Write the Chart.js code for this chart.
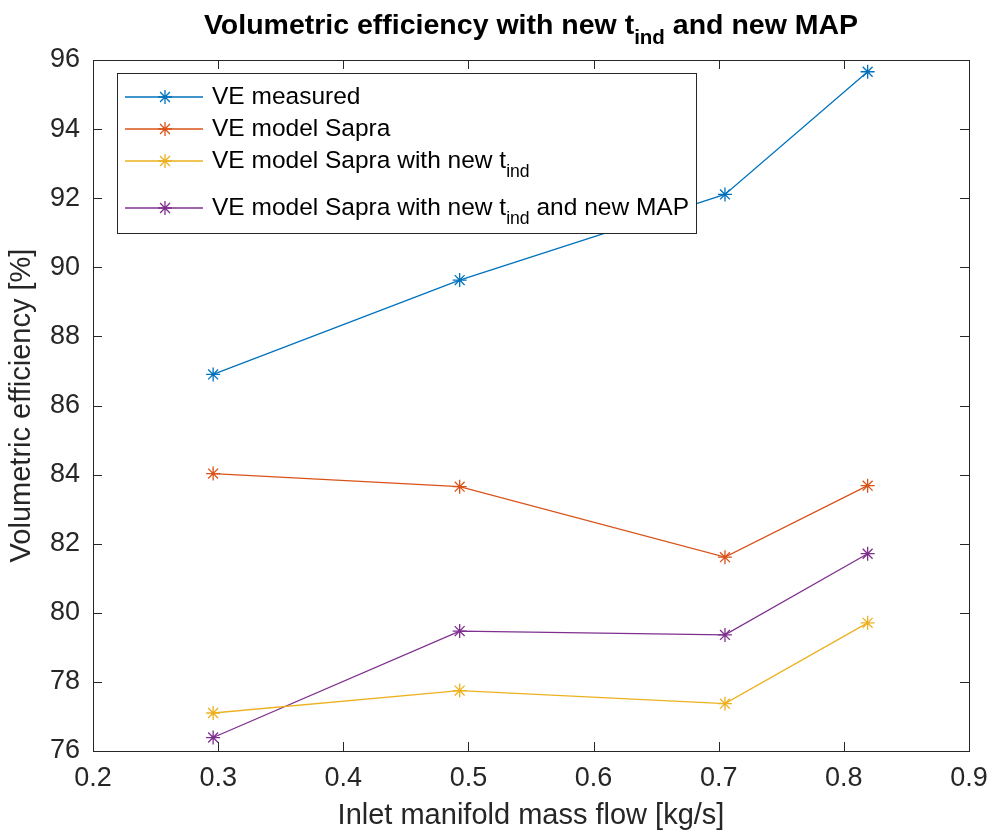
<!DOCTYPE html>
<html>
<head>
<meta charset="utf-8">
<script src="https://cdn.jsdelivr.net/npm/chart.js"></script>
<style>
html, body { margin: 0; padding: 0; background: #fff; }
</style>
</head>
<body>
<canvas id="myChart" width="992" height="839"></canvas>
<script>
// Mass flow at each operating point [kg/s]
var massFlow = [0.296, 0.493, 0.705, 0.819];

// Volumetric efficiency series [%]
var veMeasured = [86.9, 89.63, 92.11, 95.66];
var veSapra = [84.03, 83.65, 81.61, 83.68];
var veSapraTind = [77.1, 77.75, 77.37, 79.71];
var veSapraTindMap = [76.39, 79.47, 79.36, 81.71];

// Axis ticks
var xTicks = [0.2, 0.3, 0.4, 0.5, 0.6, 0.7, 0.8, 0.9];
var yTicks = [76, 78, 80, 82, 84, 86, 88, 90, 92, 94, 96];

// Legend entries: plain text followed by subscripted parts
var legendLabels = [
    [{ t: 'VE measured' }],
    [{ t: 'VE model Sapra' }],
    [{ t: 'VE model Sapra with new t' }, { t: 'ind', sub: true }],
    [{ t: 'VE model Sapra with new t' }, { t: 'ind', sub: true }, { t: ' and new MAP' }]
];
var seriesColors = ['#0072BD', '#D95319', '#EDB120', '#7E2F8E'];
var seriesValues = [veMeasured, veSapra, veSapraTind, veSapraTindMap];

var FONT = '"Liberation Sans", Arial, Helvetica, sans-serif';
var INK = '#262626';

function toPoints(ys) {
    return ys.map((y, i) => ({ x: massFlow[i], y: y }));
}

// Draws text with optional subscript segments, returns total width
function drawRich(ctx, parts, x, y, size, bold, align) {
    var w = 0;
    var weight = bold ? 'bold ' : '';
    parts.forEach(p => {
        ctx.font = weight + (p.sub ? size * 0.72 : size) + 'px ' + FONT;
        p.w = ctx.measureText(p.t).width;
        w += p.w;
    });
    var cx = align === 'center' ? x - w / 2 : x;
    ctx.textAlign = 'left';
    ctx.textBaseline = 'middle';
    parts.forEach(p => {
        ctx.font = weight + (p.sub ? size * 0.72 : size) + 'px ' + FONT;
        ctx.fillText(p.t, cx, p.sub ? y + size * 0.45 : y);
        cx += p.w;
    });
    return w;
}

function drawStar(ctx, x, y, r, color) {
    ctx.save();
    ctx.strokeStyle = color;
    ctx.lineWidth = 1.3;
    ctx.beginPath();
    for (var a = 0; a < 4; a++) {
        var ang = a * Math.PI / 4;
        ctx.moveTo(x - r * Math.cos(ang), y - r * Math.sin(ang));
        ctx.lineTo(x + r * Math.cos(ang), y + r * Math.sin(ang));
    }
    ctx.stroke();
    ctx.restore();
}

// Box, inward ticks, titles and legend in MATLAB style
var matlabFrame = {
    id: 'matlabFrame',
    afterDatasetsDraw(chart) {
        var ctx = chart.ctx;
        var a = chart.chartArea;
        var xs = chart.scales.x, ys = chart.scales.y;
        ctx.save();
        ctx.strokeStyle = INK;
        ctx.lineWidth = 1;
        ctx.strokeRect(a.left + 0.5, a.top + 0.5, a.right - a.left, a.bottom - a.top);
        ctx.beginPath();
        xTicks.forEach(v => {
            var px = Math.round(xs.getPixelForValue(v)) + 0.5;
            ctx.moveTo(px, a.bottom); ctx.lineTo(px, a.bottom - 9);
            ctx.moveTo(px, a.top); ctx.lineTo(px, a.top + 9);
        });
        yTicks.forEach(v => {
            var py = Math.round(ys.getPixelForValue(v)) + 0.5;
            ctx.moveTo(a.left, py); ctx.lineTo(a.left + 9, py);
            ctx.moveTo(a.right, py); ctx.lineTo(a.right - 9, py);
        });
        ctx.stroke();

        // Titles
        ctx.fillStyle = '#000';
        drawRich(ctx, [{ t: 'Volumetric efficiency with new t' }, { t: 'ind', sub: true }, { t: ' and new MAP' }],
            (a.left + a.right) / 2, 26, 28.5, true, 'center');
        ctx.fillStyle = INK;
        drawRich(ctx, [{ t: 'Inlet manifold mass flow [kg/s]' }], (a.left + a.right) / 2, 816, 29, false, 'center');
        ctx.save();
        ctx.translate(22, (a.top + a.bottom) / 2);
        ctx.rotate(-Math.PI / 2);
        drawRich(ctx, [{ t: 'Volumetric efficiency [%]' }], 0, 0, 29, false, 'center');
        ctx.restore();

        // Legend
        var lx = 117, ly = 73, lw = 579, lh = 160;
        ctx.fillStyle = '#fff';
        ctx.fillRect(lx, ly, lw, lh);
        ctx.strokeStyle = INK;
        ctx.lineWidth = 1;
        ctx.strokeRect(lx + 0.5, ly + 0.5, lw, lh);
        var rowY = [97, 129, 161, 208];
        legendLabels.forEach((parts, i) => {
            var y = rowY[i];
            ctx.strokeStyle = seriesColors[i];
            ctx.lineWidth = 1.3;
            ctx.beginPath();
            ctx.moveTo(125, y); ctx.lineTo(203, y);
            ctx.stroke();
            drawStar(ctx, 165, y, 7, seriesColors[i]);
            ctx.fillStyle = '#000';
            drawRich(ctx, parts, 212, y, 24.5, false, 'left');
        });
        ctx.restore();
    }
};

var ctx = document.getElementById('myChart').getContext('2d');
var myChart = new Chart(ctx, {
    type: 'line',
    data: {
        datasets: seriesValues.map((vals, i) => ({
            data: toPoints(vals),
            borderColor: seriesColors[i],
            backgroundColor: seriesColors[i],
            borderWidth: 1.3,
            pointStyle: 'star',
            pointRadius: 7,
            pointBorderWidth: 1.3,
            tension: 0
        }))
    },
    options: {
        responsive: false,
        animation: false,
        layout: { padding: { top: 60, right: 23, left: 0, bottom: 0 } },
        plugins: {
            legend: { display: false },
            title: { display: false },
            tooltip: { enabled: false }
        },
        scales: {
            x: {
                type: 'linear',
                min: 0.2,
                max: 0.9,
                afterFit: s => { s.height = 88; s.paddingLeft = 0; s.paddingRight = 0; },
                afterBuildTicks: s => { s.ticks = xTicks.map(v => ({ value: v })); },
                grid: { display: false, drawTicks: false },
                border: { display: false },
                ticks: {
                    padding: 11,
                    color: INK,
                    font: { family: FONT, size: 27 },
                    callback: v => v.toFixed(1)
                }
            },
            y: {
                min: 76,
                max: 96,
                afterFit: s => { s.width = 93; s.paddingTop = 0; s.paddingBottom = 0; },
                afterBuildTicks: s => { s.ticks = yTicks.map(v => ({ value: v })); },
                grid: { display: false, drawTicks: false },
                border: { display: false },
                ticks: {
                    padding: 13,
                    color: INK,
                    font: { family: FONT, size: 27 },
                    callback: v => String(v)
                }
            }
        }
    },
    plugins: [matlabFrame]
});
</script>
</body>
</html>
